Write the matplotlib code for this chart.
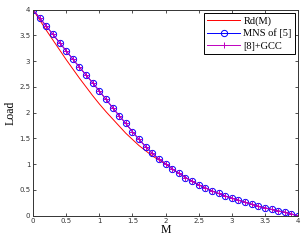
import numpy as np
import matplotlib
matplotlib.use('Agg')
import matplotlib.pyplot as plt

m = np.round(np.arange(0, 4.01, 0.1), 1)
mns = [4.00, 3.84, 3.68, 3.52, 3.36, 3.20, 3.04, 2.885, 2.73, 2.58,
       2.42, 2.26, 2.10, 1.94, 1.79, 1.63, 1.48, 1.34, 1.21, 1.10,
       1.01, 0.91, 0.82, 0.74, 0.67, 0.60, 0.54, 0.48, 0.43, 0.38,
       0.34, 0.30, 0.26, 0.22, 0.18, 0.15, 0.12, 0.09, 0.065, 0.03, 0.0]
gcc = mns
rd = [4.00, 3.80, 3.60, 3.41, 3.22, 3.03, 2.85, 2.67, 2.50, 2.33,
      2.17, 2.02, 1.88, 1.74, 1.60, 1.48, 1.36, 1.26, 1.16, 1.08,
      1.00, 0.91, 0.82, 0.74, 0.67, 0.60, 0.54, 0.48, 0.43, 0.38,
      0.34, 0.30, 0.26, 0.22, 0.18, 0.15, 0.12, 0.09, 0.065, 0.03, 0.0]
ticks = [0, 0.5, 1, 1.5, 2, 2.5, 3, 3.5, 4]
tick_labels = ['0', '0.5', '1', '1.5', '2', '2.5', '3', '3.5', '4']

fig = plt.figure(figsize=(3.06, 2.42), dpi=100)
ax = fig.add_axes([0.108, 0.109, 0.866, 0.851])

ax.plot(m, rd, color='r', lw=0.7, label='Rd(M)')
ax.plot(m, mns, color='b', lw=0.7, marker='o', ms=4.5, mfc='none', mew=0.7,
        label='MNS of [5]')
ax.plot(m, gcc, color='m', lw=0.7, marker='+', ms=4, mew=0.7, label='[8]+GCC')

ax.set_xlim(0, 4)
ax.set_ylim(0, 4)
ax.set_xticks(ticks)
ax.set_xticklabels(tick_labels)
ax.set_yticks(ticks)
ax.set_yticklabels(tick_labels)
ax.tick_params(direction='in', length=2.5, width=0.6, labelsize=5, pad=2,
               top=True, right=True, colors='#333333', labelcolor='#333333')
for s in ax.spines.values():
    s.set_linewidth(0.7)
    s.set_color('#333333')

ax.set_xlabel('M', family='Liberation Serif', fontsize=8.5, labelpad=0)
ax.set_ylabel('Load', family='Liberation Serif', fontsize=8.5, labelpad=2)

leg = ax.legend(loc='upper right', prop={'family': 'Liberation Serif', 'size': 7.5},
                fancybox=False, edgecolor='black', framealpha=1, borderaxespad=0.3,
                handlelength=3.2, handletextpad=0.3, labelspacing=0.3,
                borderpad=0.3)
leg.get_frame().set_linewidth(0.7)

fig.savefig('out.png', dpi=100)
